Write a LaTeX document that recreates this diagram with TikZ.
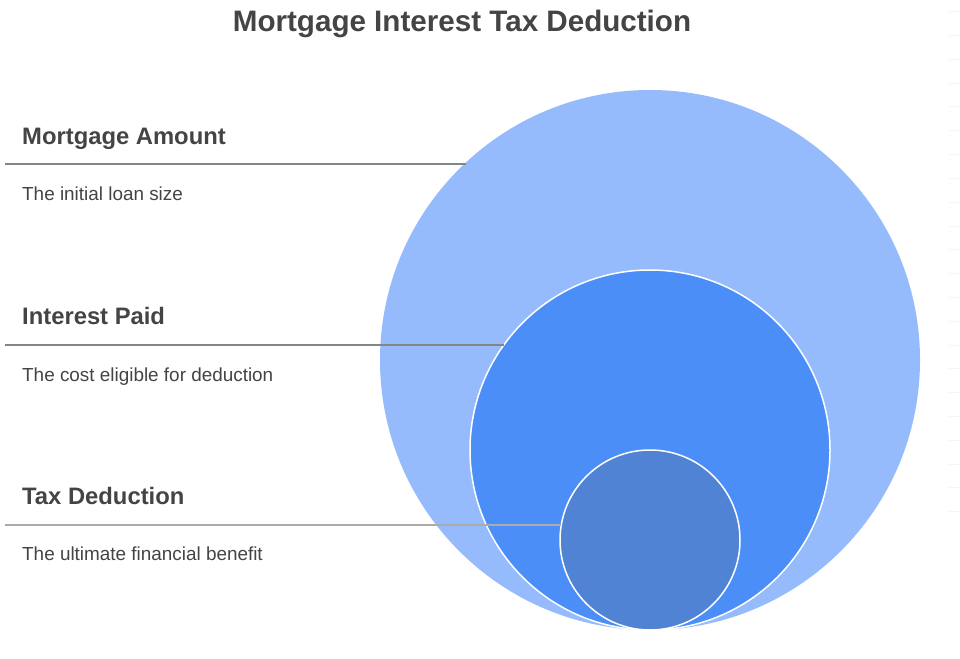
\documentclass[tikz,border=0pt]{standalone}
\usepackage{fontspec}
\setmainfont{Liberation Sans}
\definecolor{txt}{HTML}{444444}
\definecolor{cbig}{HTML}{95BBFD}
\definecolor{cmid}{HTML}{4C8EF7}
\definecolor{csmall}{HTML}{5183D5}
\definecolor{ln}{HTML}{858585}
\definecolor{lnlight}{HTML}{ABABAB}
\definecolor{tick}{HTML}{F5F5F5}
\begin{document}
\begin{tikzpicture}[x=1pt,y=-1pt,
  ring/.style={circle,inner sep=0pt,outer sep=0pt},
  heading/.style={anchor=base west,inner sep=0pt,text=txt,font=\fontsize{23.8}{28}\selectfont\bfseries},
  desc/.style={anchor=base west,inner sep=0pt,text=txt,font=\fontsize{18.9}{22}\selectfont},
  leader/.style={line width=1.6pt}]
\useasboundingbox (0,0) rectangle (960,658);
\fill[white] (0,0) rectangle (960,658);
\foreach \k in {0,...,21}{\draw[tick,line width=0.8pt] (949,{11.7+23.8*\k}) -- (960,{11.7+23.8*\k});}
\node[anchor=base,inner sep=0pt,text=txt,font=\fontsize{29.6}{34}\selectfont\bfseries] (title) at (462,32) {Mortgage Interest Tax Deduction};
\node[ring,fill=cbig,minimum size=540pt] (big) at (650,360) {};
\node[ring,fill=cmid,draw=white,line width=1.5pt,minimum size=360pt] (mid) at (650,450) {};
\node[ring,fill=csmall,draw=white,line width=1.5pt,minimum size=180pt] (small) at (650,540) {};
\coordinate (l1) at (5,164);
\coordinate (l2) at (5,345);
\coordinate (l3) at (5,525);
\draw[leader,ln] (l1) -- (l1 -| big.133.5);
\draw[leader,ln] (l2) -- (l2 -| mid.144.3);
\draw[leader,lnlight] (l3) -- (l3 -| small.170.4);
\node[heading] (h1) at (22,144) {Mortgage Amount};
\node[desc] (d1) at (22,200) {The initial loan size};
\node[heading] (h2) at (22,324) {Interest Paid};
\node[desc] (d2) at (22,381) {The cost eligible for deduction};
\node[heading] (h3) at (22,504) {Tax Deduction};
\node[desc] (d3) at (22,560) {The ultimate financial benefit};
\end{tikzpicture}
\end{document}
